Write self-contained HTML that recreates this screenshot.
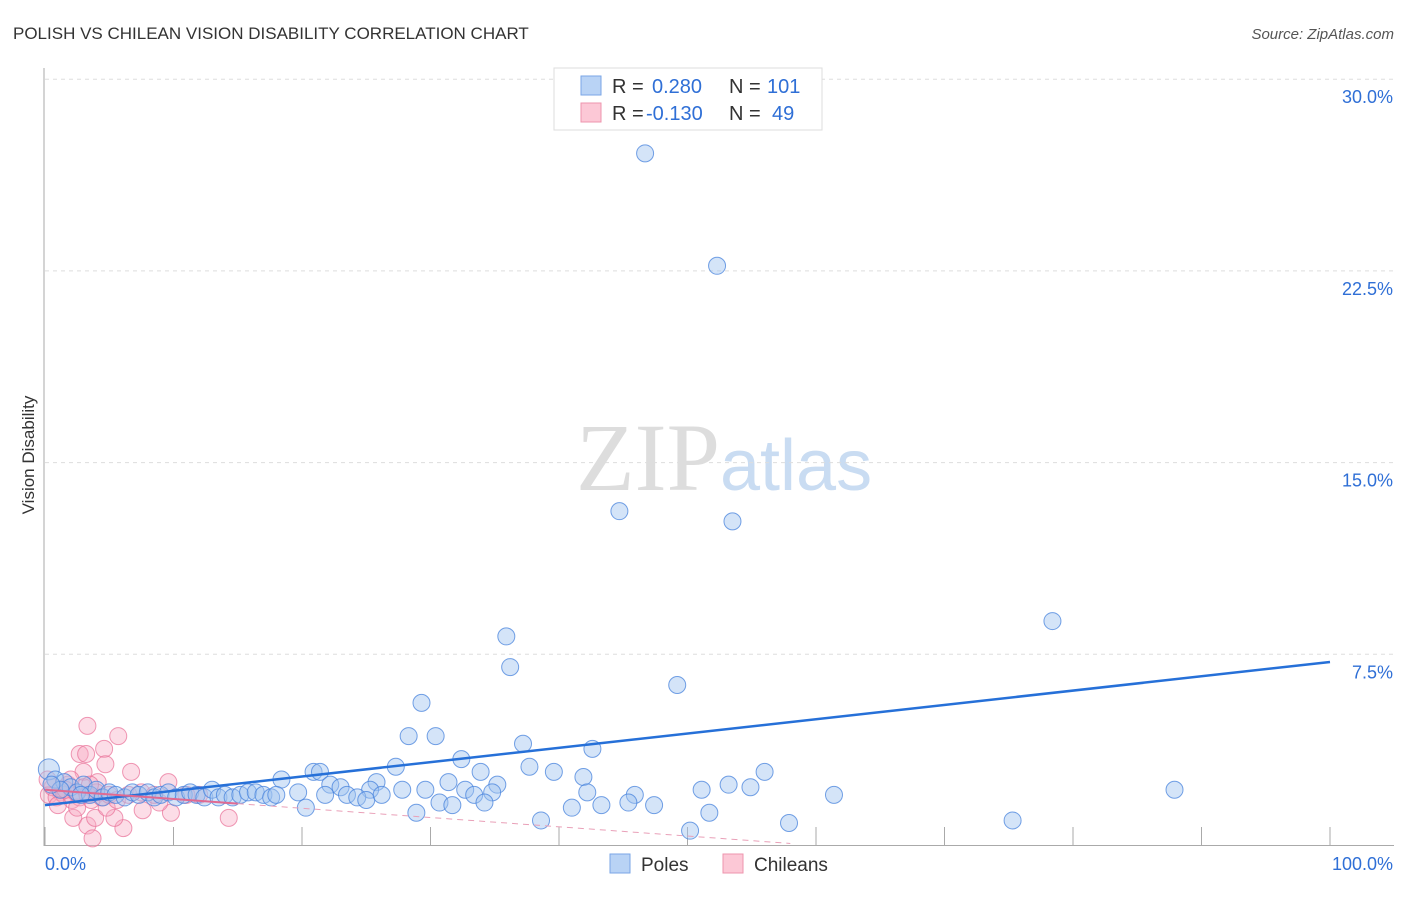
<!DOCTYPE html>
<html><head><meta charset="utf-8"><style>
body{margin:0;background:#fff;font-family:"Liberation Sans",sans-serif}
#c{position:relative;width:1406px;height:892px}
</style></head><body>
<div id="c">
<svg id="svg" width="1406" height="892" xmlns="http://www.w3.org/2000/svg">
<text x="13" y="39" font-size="17" fill="#333">POLISH VS CHILEAN VISION DISABILITY CORRELATION CHART</text>
<text x="1394" y="39" font-size="15" fill="#555" font-style="italic" text-anchor="end">Source: ZipAtlas.com</text>
<text x="720" y="490" font-size="96" fill="#ddd" text-anchor="end" font-family="Liberation Serif">ZIP</text>
<text x="720" y="490" font-size="72" fill="#c9dcf2">atlas</text>
<text transform="translate(34,455) rotate(-90)" font-size="17" fill="#333" text-anchor="middle">Vision Disability</text>
<g id="grid"></g><g id="pts"></g><g id="lines"></g>
<g>
<rect x="554" y="68" width="268" height="62" fill="#fff" stroke="#ddd"/>
<rect x="581" y="76" width="20" height="19" fill="#b9d3f5" stroke="#7aa6e6"/>
<rect x="581" y="103" width="20" height="19" fill="#fcc8d6" stroke="#ee94ad"/>
<text x="612" y="93" font-size="20" fill="#333">R = </text><text x="652" y="93" font-size="20" fill="#2f6fd6">0.280</text>
<text x="729" y="93" font-size="20" fill="#333">N = </text><text x="767" y="93" font-size="20" fill="#2f6fd6">101</text>
<text x="612" y="120" font-size="20" fill="#333">R = </text><text x="646" y="120" font-size="20" fill="#2f6fd6">-0.130</text>
<text x="729" y="120" font-size="20" fill="#333">N = </text><text x="772" y="120" font-size="20" fill="#2f6fd6">49</text>
</g>
<g>
<rect x="610" y="854" width="20" height="19" fill="#b9d3f5" stroke="#7aa6e6"/>
<text x="641" y="871" font-size="19" fill="#333">Poles</text>
<rect x="723" y="854" width="20" height="19" fill="#fcc8d6" stroke="#ee94ad"/>
<text x="754" y="871" font-size="19" fill="#333">Chileans</text>
</g>
</svg>
</div>
<script>
const yTicks=[7.5,15,22.5,30];
const yTickLabels=["7.5%","15.0%","22.5%","30.0%"];
const xTicks=[0,10,20,30,40,50,60,70,80,90,100];
const polesX=[46.7,52.3,44.7,53.5,78.4,35.9,36.2,49.2,29.3,28.3,30.4,37.2,42.6,32.4,27.3,37.7,56.0,20.9,21.4,33.9,39.6,41.9,18.4,25.8,31.4,53.2,54.9,51.1,87.9,35.2,22.2,23.0,25.3,27.8,29.6,32.7,34.8,42.2,45.9,61.4,19.7,21.8,23.5,24.3,25.0,26.2,30.7,31.7,33.4,34.2,41.0,43.3,45.4,47.4,20.3,28.9,51.7,38.6,75.3,57.9,50.2,
0.3,0.8,1.5,2.0,2.5,3.0,3.5,4.0,4.5,5.0,5.5,6.2,6.8,7.3,8.0,8.5,9.0,9.6,10.2,10.8,11.3,11.8,12.4,13.0,13.5,14.0,14.6,15.2,15.8,16.4,17.0,17.6,18.0,1.2,2.8,0.5];
const polesY=[27.1,22.7,13.1,12.7,8.8,8.2,7.0,6.3,5.6,4.3,4.3,4.0,3.8,3.4,3.1,3.1,2.9,2.9,2.9,2.9,2.9,2.7,2.6,2.5,2.5,2.4,2.3,2.2,2.2,2.4,2.4,2.3,2.2,2.2,2.2,2.2,2.1,2.1,2.0,2.0,2.1,2.0,2.0,1.9,1.8,2.0,1.7,1.6,2.0,1.7,1.5,1.6,1.7,1.6,1.5,1.3,1.3,1.0,1.0,0.9,0.6,
3.0,2.6,2.5,2.3,2.1,2.4,2.0,2.2,1.9,2.1,2.0,1.9,2.1,2.0,2.1,1.9,2.0,2.1,1.9,2.0,2.1,2.0,1.9,2.2,1.9,2.0,1.9,2.0,2.1,2.1,2.0,1.9,2.0,2.2,2.0,2.4];
const chileX=[3.3,5.7,2.7,3.2,4.6,4.7,3.0,6.7,9.6,4.1,1.2,2.2,3.3,3.9,6.1,3.7,5.4,9.8,14.3,7.6,4.8,8.9,0.3,0.6,0.9,1.2,1.5,1.8,2.1,2.4,2.7,3.0,3.3,3.6,4.0,4.4,5.0,5.6,6.5,7.5,8.5,12,0.2,1.0,2.0,2.5,3.5,11,1.6];
const chileY=[4.7,4.3,3.6,3.6,3.8,3.2,2.9,2.9,2.5,2.5,2.1,1.1,0.8,1.1,0.7,0.3,1.1,1.3,1.1,1.4,1.5,1.7,2.0,2.3,1.9,2.2,2.0,2.4,1.8,2.1,1.9,2.3,2.0,1.8,2.1,1.9,2.0,1.8,2.0,2.1,2.0,2.0,2.6,1.6,2.6,1.5,2.4,2.0,2.2];
const polesTrend=[1.6,7.2];
const chileTrend=[2.2,0.1];
const NS="http://www.w3.org/2000/svg";
const X0=45,X1=1330,Y0=846,YS=25.56;
const sx=v=>X0+(X1-X0)*v/100, sy=v=>Y0-v*YS;
function mk(t,a,p){const e=document.createElementNS(NS,t);for(const k in a)e.setAttribute(k,a[k]);p.appendChild(e);return e;}
const grid=document.getElementById('grid');
yTicks.forEach((v,i)=>{
 const l=mk('line',{x1:X0,x2:1394,y1:sy(v),y2:sy(v),stroke:'#ddd','stroke-dasharray':'4,4'},grid);
 
 
 const t=mk('text',{x:1393,y:sy(v)+24,'font-size':18,fill:'#2f6fd6','text-anchor':'end'},grid);
 t.textContent=yTickLabels[i];
 
 
});
const ax=mk('line',{x1:44,x2:44,y1:68,y2:846,stroke:'#aaa'},grid);


const bx=mk('line',{x1:44,x2:1394,y1:845.5,y2:845.5,stroke:'#aaa'},grid);


xTicks.forEach(v=>{
 const l=mk('line',{x1:sx(v),x2:sx(v),y1:827,y2:846,stroke:'#aaa'},grid);
 
 
});
const tl=mk('text',{x:45,y:870,'font-size':18,fill:'#2f6fd6'},grid);tl.textContent='0.0%';


const tr=mk('text',{x:1393,y:870,'font-size':18,fill:'#2f6fd6','text-anchor':'end'},grid);tr.textContent='100.0%';


const pts=document.getElementById('pts');
chileX.forEach((v,i)=>{
 const c=mk('circle',{cx:sx(v),cy:sy(chileY[i]),r:8.5,fill:'rgba(248,170,195,0.4)',stroke:'rgba(232,110,150,0.7)','stroke-width':1},pts);
 
 
});
polesX.forEach((v,i)=>{
 const c=mk('circle',{cx:sx(v),cy:sy(polesY[i]),r:i===61?10.5:8.5,fill:'rgba(160,195,240,0.45)',stroke:'rgba(70,130,220,0.75)','stroke-width':1},pts);
 
 
});
const lines=document.getElementById('lines');
const pl=mk('line',{x1:sx(0),y1:sy(polesTrend[0]),x2:sx(100),y2:sy(polesTrend[1]),stroke:'#2670d8','stroke-width':2.5},lines);


const cy=x=>chileTrend[0]+(chileTrend[1]-chileTrend[0])*x/58;
const cs=mk('line',{x1:sx(0),y1:sy(cy(0)),x2:sx(15),y2:sy(cy(15)),stroke:'#e06a92','stroke-width':2},lines);


const cd=mk('line',{x1:sx(15),y1:sy(cy(15)),x2:sx(58),y2:sy(cy(58)),stroke:'#e9a0b8','stroke-width':1,'stroke-dasharray':'6,5'},lines);


</script>
</body></html>
